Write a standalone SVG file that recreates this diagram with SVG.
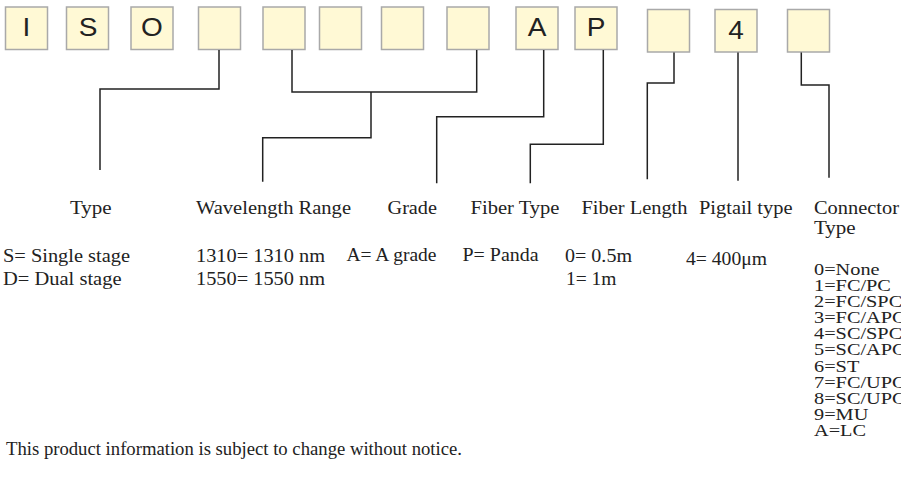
<svg xmlns="http://www.w3.org/2000/svg" width="901" height="485" viewBox="0 0 901 485">
<style>
.box{fill:#fff9d5;stroke:#a9a9a9;stroke-width:1.5}
.bl{font-family:"Liberation Sans",Arial,sans-serif;font-size:25px;fill:#222;text-anchor:middle}
.t{font-family:"Liberation Serif","Times New Roman",serif;font-size:18px;fill:#222}
.s{font-family:"Liberation Serif","Times New Roman",serif;font-size:16px;fill:#222}
.ln{fill:none;stroke:#222;stroke-width:1.5}
</style>
<rect width="901" height="485" fill="#fff"/>
<g id="box1"><rect class="box" x="5.5" y="7" width="42" height="42.5"/><text class="bl" transform="translate(26.5 36) scale(1.12 1)">I</text></g>
<g id="box2"><rect class="box" x="66.5" y="7" width="42" height="42.5"/><text class="bl" transform="translate(88 36) scale(1.12 1)">S</text></g>
<g id="box3"><rect class="box" x="131" y="7" width="42" height="42.5"/><text class="bl" transform="translate(152 36) scale(1.12 1)">O</text></g>
<g id="box4"><rect class="box" x="198.5" y="7" width="42" height="42.5"/></g>
<g id="box5"><rect class="box" x="263" y="7" width="42" height="42.5"/></g>
<g id="box6"><rect class="box" x="319.5" y="7" width="42" height="42.5"/></g>
<g id="box7"><rect class="box" x="381.5" y="7" width="42" height="42.5"/></g>
<g id="box8"><rect class="box" x="447" y="7" width="42" height="42.5"/></g>
<g id="box9"><rect class="box" x="516" y="7" width="42" height="42.5"/><text class="bl" transform="translate(537 35.5) scale(1.12 1)">A</text></g>
<g id="box10"><rect class="box" x="575" y="7" width="42" height="42.5"/><text class="bl" transform="translate(596 35.5) scale(1.12 1)">P</text></g>
<g id="box11"><rect class="box" x="647.5" y="9.5" width="42" height="42.5"/></g>
<g id="box12"><rect class="box" x="715" y="9.5" width="42" height="42.5"/><text class="bl" transform="translate(736 38.5) scale(1.12 1)">4</text></g>
<g id="box13"><rect class="box" x="787.5" y="9.5" width="42" height="42.5"/></g>
<g id="connectors">
<path class="ln" d="M219,50 V89 H100 V170"/>
<path class="ln" d="M292,50 V92 H476.7 V50"/>
<path class="ln" d="M371,92 V137.7 H262.7 V181.7"/>
<path class="ln" d="M543.7,50 V116.7 H436.7 V183.3"/>
<path class="ln" d="M603.3,50 V144.3 H530.3 V183.3"/>
<path class="ln" d="M674,52.5 V83 H647.3 V179.3"/>
<path class="ln" d="M738,52.5 V180.7"/>
<path class="ln" d="M801.3,52.5 V85 H829 V177.7"/>
</g>
<g id="labels">
<text class="t" x="70" y="214" textLength="41.7" lengthAdjust="spacingAndGlyphs">Type</text>
<text class="t" x="196" y="214" textLength="155" lengthAdjust="spacingAndGlyphs">Wavelength Range</text>
<text class="t" x="387.5" y="214" textLength="49.5" lengthAdjust="spacingAndGlyphs">Grade</text>
<text class="t" x="470.5" y="214" textLength="89" lengthAdjust="spacingAndGlyphs">Fiber Type</text>
<text class="t" x="581.5" y="214" textLength="106" lengthAdjust="spacingAndGlyphs">Fiber Length</text>
<text class="t" x="699" y="214" textLength="93.5" lengthAdjust="spacingAndGlyphs">Pigtail type</text>
<text class="t" x="814" y="214" textLength="85" lengthAdjust="spacingAndGlyphs">Connector</text>
<text class="t" x="814" y="234" textLength="41.7" lengthAdjust="spacingAndGlyphs">Type</text>
</g>
<g id="values">
<text class="t" x="3" y="261.5" textLength="127" lengthAdjust="spacingAndGlyphs">S= Single stage</text>
<text class="t" x="3" y="285" textLength="118.5" lengthAdjust="spacingAndGlyphs">D= Dual stage</text>
<text class="t" x="196" y="261.5" textLength="129" lengthAdjust="spacingAndGlyphs">1310= 1310 nm</text>
<text class="t" x="196" y="285" textLength="129" lengthAdjust="spacingAndGlyphs">1550= 1550 nm</text>
<text class="t" x="346.5" y="261" textLength="90" lengthAdjust="spacingAndGlyphs">A= A grade</text>
<text class="t" x="462.5" y="261" textLength="76" lengthAdjust="spacingAndGlyphs">P= Panda</text>
<text class="t" x="565" y="262" textLength="67" lengthAdjust="spacingAndGlyphs">0= 0.5m</text>
<text class="t" x="566" y="285" textLength="50.5" lengthAdjust="spacingAndGlyphs">1= 1m</text>
<text class="t" x="686" y="264.5" textLength="81" lengthAdjust="spacingAndGlyphs">4= 400μm</text>
</g>
<g id="connector-list" transform="translate(814 0) scale(1.27 1)">
<text class="s" x="0" y="275">0=None</text>
<text class="s" x="0" y="291.1">1=FC/PC</text>
<text class="s" x="0" y="307.2">2=FC/SPC</text>
<text class="s" x="0" y="323.3">3=FC/APC</text>
<text class="s" x="0" y="339.4">4=SC/SPC</text>
<text class="s" x="0" y="355.5">5=SC/APC</text>
<text class="s" x="0" y="371.6">6=ST</text>
<text class="s" x="0" y="387.7">7=FC/UPC</text>
<text class="s" x="0" y="403.8">8=SC/UPC</text>
<text class="s" x="0" y="419.9">9=MU</text>
<text class="s" x="0" y="436">A=LC</text>
</g>
<text id="footer" class="t" x="6" y="455" textLength="456" lengthAdjust="spacingAndGlyphs">This product information is subject to change without notice.</text>
</svg>
